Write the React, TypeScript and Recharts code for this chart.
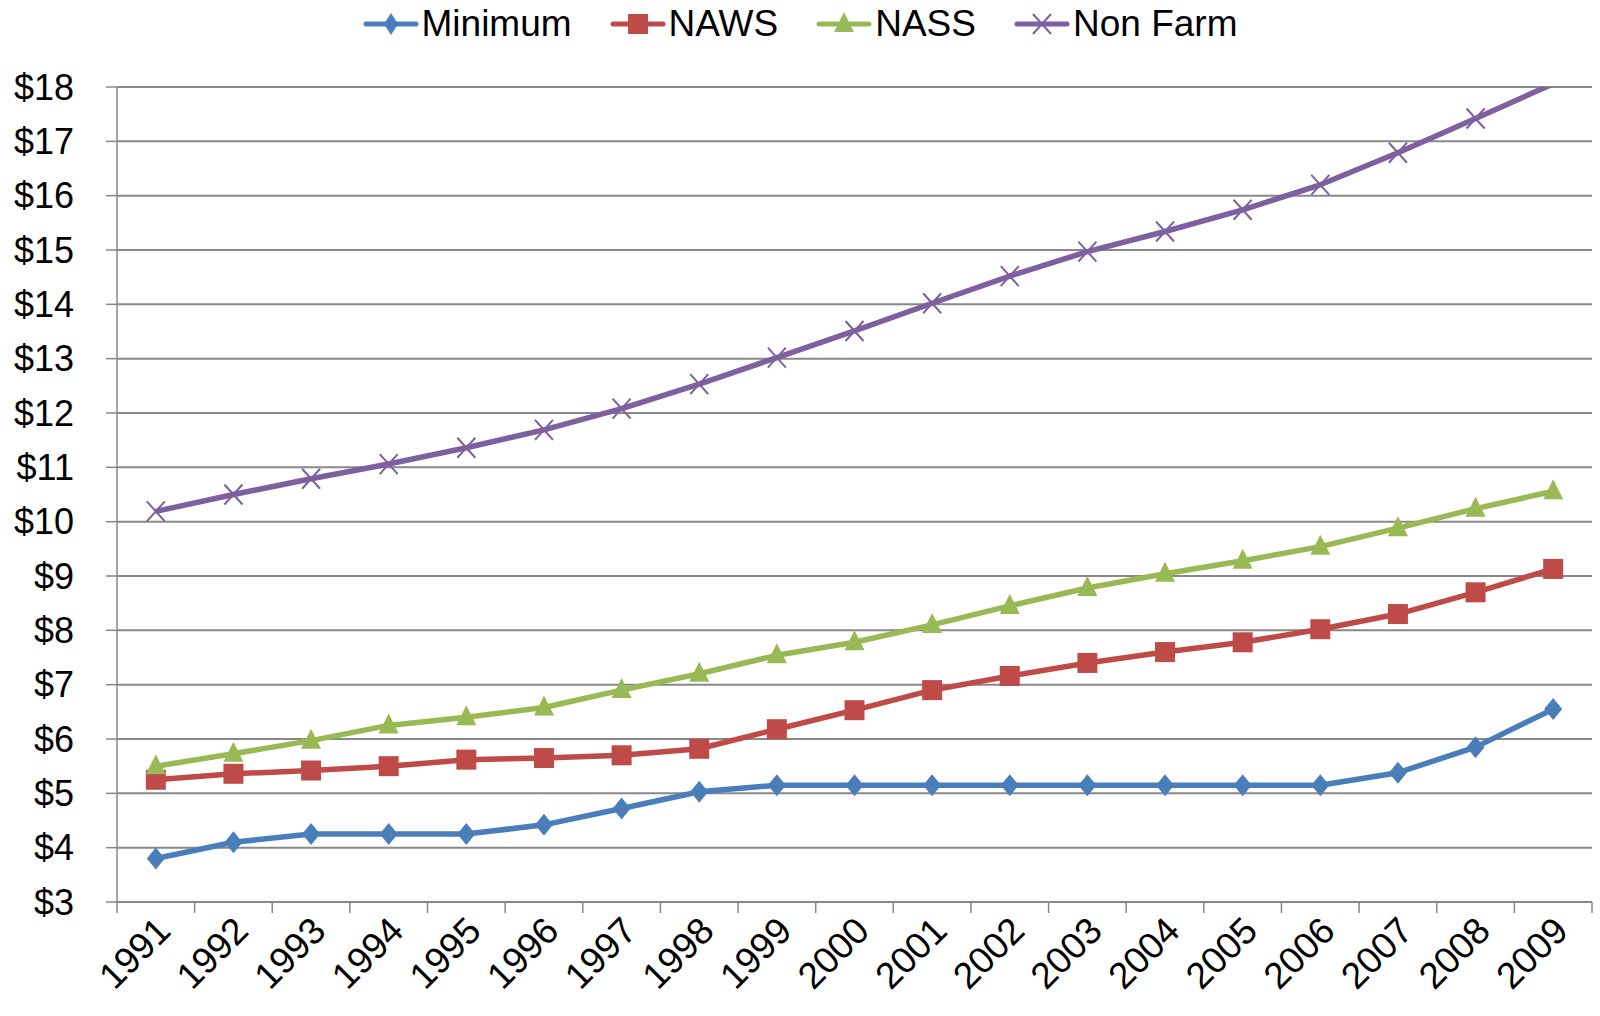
import React from 'react';
import { LineChart, Line, XAxis, YAxis, CartesianGrid, Legend } from 'recharts';

const YEARS = ['1991', '1992', '1993', '1994', '1995', '1996', '1997', '1998', '1999', '2000',
  '2001', '2002', '2003', '2004', '2005', '2006', '2007', '2008', '2009'];

const MINIMUM = [3.8, 4.1, 4.25, 4.25, 4.25, 4.42, 4.72, 5.03, 5.15, 5.15,
  5.15, 5.15, 5.15, 5.15, 5.15, 5.15, 5.38, 5.85, 6.55];
const NAWS = [5.25, 5.36, 5.42, 5.5, 5.62, 5.65, 5.7, 5.82, 6.18, 6.53,
  6.9, 7.16, 7.4, 7.6, 7.78, 8.02, 8.3, 8.7, 9.13];
const NASS = [5.5, 5.73, 5.97, 6.25, 6.4, 6.58, 6.9, 7.2, 7.54, 7.78,
  8.1, 8.45, 8.78, 9.04, 9.28, 9.54, 9.88, 10.24, 10.56];
const NON_FARM = [10.19, 10.5, 10.79, 11.06, 11.36, 11.69, 12.08, 12.53, 13.02, 13.51,
  14.02, 14.52, 14.97, 15.34, 15.74, 16.2, 16.79, 17.42, 18.06];

const Y_TICKS = [3, 4, 5, 6, 7, 8, 9, 10, 11, 12, 13, 14, 15, 16, 17, 18];
const Y_MAX = 18;

const SERIES = [
  { key: 'minimum', name: 'Minimum', color: '#4A7EBB', marker: 'diamond' },
  { key: 'naws', name: 'NAWS', color: '#BE4B48', marker: 'square' },
  { key: 'nass', name: 'NASS', color: '#98B954', marker: 'triangle' },
  { key: 'nonFarm', name: 'Non Farm', color: '#7D60A0', marker: 'x' },
];

const data = YEARS.map((year, i) => ({
  year,
  minimum: MINIMUM[i],
  naws: NAWS[i],
  nass: NASS[i],
  nonFarm: NON_FARM[i],
}));

const WIDTH = 1600;
const HEIGHT = 1016;
const MARGIN = { top: 87, right: 8, bottom: 14, left: 0 };
const Y_AXIS_W = 117;
const PLOT_W = WIDTH - MARGIN.left - MARGIN.right - Y_AXIS_W;
const FONT = '"Liberation Sans", Arial, sans-serif';
const GRID = '#888888';

function markerShape(kind: string, cx: number, cy: number, color: string, small = false) {
  if (kind === 'diamond') {
    const w = small ? 7 : 9;
    return <polygon points={`${cx},${cy - 11} ${cx + w},${cy} ${cx},${cy + 11} ${cx - w},${cy}`} fill={color} />;
  }
  if (kind === 'square') {
    return <rect x={cx - 10} y={cy - 10} width={20} height={20} fill={color} />;
  }
  if (kind === 'triangle') {
    return <polygon points={`${cx},${cy - 12} ${cx + 10},${cy + 8} ${cx - 10},${cy + 8}`} fill={color} />;
  }
  return (
    <g stroke={color} strokeWidth={2}>
      <line x1={cx - 9} y1={cy - 10} x2={cx + 9} y2={cy + 10} />
      <line x1={cx - 9} y1={cy + 10} x2={cx + 9} y2={cy - 10} />
    </g>
  );
}

// markers beyond the axis max are clipped away like the line itself
const makeDot = (kind: string, color: string) => (props: any) => {
  const { cx, cy, index, value } = props;
  const v = Array.isArray(value) ? value[1] : value;
  if (cx == null || cy == null || v > Y_MAX) return <g key={index} />;
  return <g key={index}>{markerShape(kind, cx, cy, color)}</g>;
};

const YearTick = (props: any) => {
  const { x, y, payload, index } = props;
  const band = PLOT_W / YEARS.length;
  const tx = x + 8;
  const ty = y + 22;
  return (
    <g>
      <line x1={x - band / 2} x2={x - band / 2} y1={y} y2={y + 11} stroke={GRID} strokeWidth={1.5} />
      {index === YEARS.length - 1 && (
        <line x1={x + band / 2} x2={x + band / 2} y1={y} y2={y + 11} stroke={GRID} strokeWidth={1.5} />
      )}
      <text
        x={tx}
        y={ty}
        textAnchor="end"
        dominantBaseline="central"
        transform={`rotate(-45 ${tx} ${ty})`}
        fontSize={37}
        fontFamily={FONT}
        fill="#000"
      >
        {payload.value}
      </text>
    </g>
  );
};

const renderLegend = () => (
  <div style={{ display: 'flex', justifyContent: 'center', alignItems: 'center', gap: 38 }}>
    {SERIES.map((s) => (
      <div key={s.key} style={{ display: 'flex', alignItems: 'center', gap: 3 }}>
        <svg width={56} height={30}>
          <line x1={3} x2={53} y1={15} y2={15} stroke={s.color} strokeWidth={5} strokeLinecap="round" />
          {markerShape(s.marker, 28, 15, s.color, true)}
        </svg>
        <span style={{ fontFamily: FONT, fontSize: 37, color: '#000', lineHeight: '40px' }}>{s.name}</span>
      </div>
    ))}
  </div>
);

export default function App() {
  return (
    <div style={{ position: 'fixed', left: 0, top: 0, width: WIDTH, height: HEIGHT, background: '#fff' }}>
      <LineChart width={WIDTH} height={HEIGHT} data={data} margin={MARGIN}>
        <CartesianGrid vertical={false} stroke={GRID} strokeWidth={2} />
        <XAxis
          dataKey="year"
          scale="band"
          interval={0}
          height={100}
          tickSize={0}
          tickMargin={0}
          tickLine={false}
          axisLine={{ stroke: GRID, strokeWidth: 2 }}
          tick={<YearTick />}
        />
        <YAxis
          width={Y_AXIS_W}
          domain={[3, Y_MAX]}
          ticks={Y_TICKS}
          allowDataOverflow
          interval={0}
          tickFormatter={(v: number) => `$${v}`}
          tickSize={11}
          tickMargin={32}
          tickLine={{ stroke: GRID, strokeWidth: 1.5 }}
          axisLine={{ stroke: GRID, strokeWidth: 1.5 }}
          tick={{ fontSize: 36, fontFamily: FONT, fill: '#000' }}
        />
        <Legend
          layout="horizontal"
          verticalAlign="middle"
          align="center"
          wrapperStyle={{ top: 4, left: 0, width: WIDTH }}
          content={renderLegend}
        />
        {SERIES.map((s) => (
          <Line
            key={s.key}
            type="linear"
            dataKey={s.key}
            name={s.name}
            stroke={s.color}
            strokeWidth={5.5}
            strokeLinejoin="round"
            dot={makeDot(s.marker, s.color)}
            activeDot={false}
            isAnimationActive={false}
          />
        ))}
      </LineChart>
    </div>
  );
}
